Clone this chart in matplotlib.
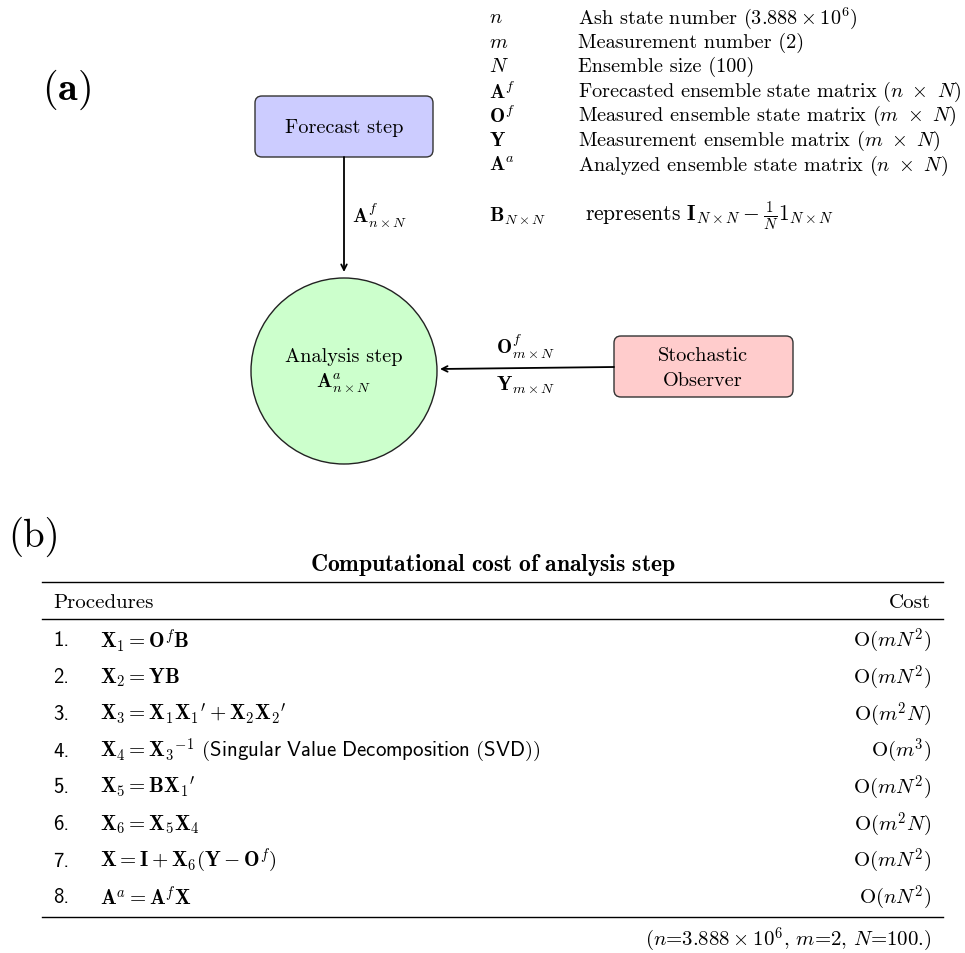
import matplotlib
matplotlib.use("Agg")
from matplotlib import pyplot as plt
from matplotlib.patches import FancyBboxPatch, Circle

plt.rcParams['mathtext.fontset'] = 'cm'
plt.rcParams['font.family'] = 'cmr10'
plt.rcParams['axes.unicode_minus'] = False

# legend of symbols (part a)
legend_symbols = [r'$n$', r'$m$', r'$N$', r'$\mathbf{A}^f$', r'$\mathbf{O}^f$',
                  r'$\mathbf{Y}$', r'$\mathbf{A}^a$']
legend_desc = [r'Ash state number $(3.888\times10^6)$',
               r'Measurement number (2)',
               r'Ensemble size (100)',
               r'Forecasted ensemble state matrix $(n\ \times\ N)$',
               r'Measured ensemble state matrix $(m\ \times\ N)$',
               r'Measurement ensemble matrix $(m\ \times\ N)$',
               r'Analyzed ensemble state matrix $(n\ \times\ N)$']
b_symbol = r'$\mathbf{B}_{N\times N}$'
b_desc = r'represents $\mathbf{I}_{N\times N}-\frac{1}{N}\mathbf{1}_{N\times N}$'

# table (part b)
table_title = r'$\mathbf{Computational\ cost\ of\ analysis\ step}$'
step_nums = ['1.', '2.', '3.', '4.', '5.', '6.', '7.', '8.']
procedures = [r'$\mathbf{X}_\mathbf{1} = \mathbf{O}^f\mathbf{B}$',
              r'$\mathbf{X}_\mathbf{2} = \mathbf{Y}\mathbf{B}$',
              r"$\mathbf{X}_\mathbf{3} = \mathbf{X}_\mathbf{1}{\mathbf{X}_\mathbf{1}}' + \mathbf{X}_\mathbf{2}{\mathbf{X}_\mathbf{2}}'$",
              r'$\mathbf{X}_\mathbf{4} = {\mathbf{X}_\mathbf{3}}^{-1}$ $\mathsf{(Singular\ Value\ Decomposition\ (SVD))}$',
              r"$\mathbf{X}_\mathbf{5} = \mathbf{B}{\mathbf{X}_\mathbf{1}}'$",
              r'$\mathbf{X}_\mathbf{6} = \mathbf{X}_\mathbf{5}\mathbf{X}_\mathbf{4}$',
              r'$\mathbf{X} = \mathbf{I} + \mathbf{X}_\mathbf{6}(\mathbf{Y} - \mathbf{O}^f)$',
              r'$\mathbf{A}^a = \mathbf{A}^f\mathbf{X}$']
costs = [r'$\mathrm{O}(mN^2)$', r'$\mathrm{O}(mN^2)$', r'$\mathrm{O}(m^2N)$',
         r'$\mathrm{O}(m^3)$', r'$\mathrm{O}(mN^2)$', r'$\mathrm{O}(m^2N)$',
         r'$\mathrm{O}(mN^2)$', r'$\mathrm{O}(nN^2)$']
footnote = r'$(n$=$3.888\times10^6$, $m$=2, $N$=100.)'

FS = 14.6
TFS = 15

fig = plt.figure(figsize=(9.65, 9.54), dpi=100)
ax = fig.add_axes([0, 0, 1, 1])
ax.set_xlim(0, 965)
ax.set_ylim(954, 0)
ax.axis('off')

# ---- part (a)
ax.text(66, 90, r'$\mathbf{(a)}$', fontsize=29, ha='center', va='center')

fc_box = FancyBboxPatch((255, 97), 178, 61, boxstyle='round,pad=0,rounding_size=7',
                        fc='#ccccff', ec='#333333', lw=1)
ax.add_patch(fc_box)
ax.text(344, 128, 'Forecast step', fontsize=FS, ha='center', va='center')

obs_box = FancyBboxPatch((614, 337), 179, 61, boxstyle='round,pad=0,rounding_size=7',
                         fc='#ffcccc', ec='#333333', lw=1)
ax.add_patch(obs_box)
ax.text(703, 356, 'Stochastic', fontsize=FS, ha='center', va='center')
ax.text(703, 381, 'Observer', fontsize=FS, ha='center', va='center')

circ = Circle((344, 372), 93, fc='#ccffcc', ec='#222222', lw=1)
ax.add_patch(circ)
ax.text(344, 357, 'Analysis step', fontsize=FS, ha='center', va='center')
ax.text(344, 383, r'$\mathbf{A}^a_{n\times N}$', fontsize=FS, ha='center', va='center')

ax.annotate('', xy=(344, 273), xytext=(344, 158),
            arrowprops=dict(arrowstyle='->', lw=1.3, color='black', shrinkA=0, shrinkB=0))
ax.text(352, 216, r'$\mathbf{A}^f_{n\times N}$', fontsize=FS, ha='left', va='center')

ax.annotate('', xy=(440, 370), xytext=(614, 368),
            arrowprops=dict(arrowstyle='->', lw=1.3, color='black', shrinkA=0, shrinkB=0))
ax.text(526, 347, r'$\mathbf{O}^f_{m\times N}$', fontsize=FS, ha='center', va='center')
ax.text(526, 385, r'$\mathbf{Y}_{m\times N}$', fontsize=FS, ha='center', va='center')

row_y0, row_dy = 18, 24.6
for i, (s, d) in enumerate(zip(legend_symbols, legend_desc)):
    y = row_y0 + i * row_dy
    ax.text(489, y, s, fontsize=FS, ha='left', va='center')
    ax.text(578, y, d, fontsize=FS, ha='left', va='center')
ax.text(489, 216, b_symbol, fontsize=FS, ha='left', va='center')
ax.text(585, 216, b_desc, fontsize=15.5, ha='left', va='center')

# ---- part (b)
ax.text(34, 537, '(b)', fontsize=28, ha='center', va='center')
ax.text(493, 565, table_title, fontsize=17, ha='center', va='center')

ax.plot([42, 943], [583, 583], color='black', lw=1)
ax.plot([42, 943], [620, 620], color='black', lw=1)
ax.plot([42, 943], [918, 918], color='black', lw=1)

ax.text(53, 603, 'Procedures', fontsize=TFS, ha='left', va='center')
ax.text(931, 603, 'Cost', fontsize=TFS, ha='right', va='center')

tab_y0, tab_dy = 641, 36.7
for i, (k, p, c) in enumerate(zip(step_nums, procedures, costs)):
    y = tab_y0 + i * tab_dy
    ax.text(53, y, k, fontsize=TFS, ha='left', va='center', family='cmss10')
    ax.text(100, y, p, fontsize=TFS, ha='left', va='center')
    ax.text(931, y, c, fontsize=TFS, ha='right', va='center')

ax.text(931, 940, footnote, fontsize=TFS, ha='right', va='center')

fig.savefig('out.png', dpi=100)
